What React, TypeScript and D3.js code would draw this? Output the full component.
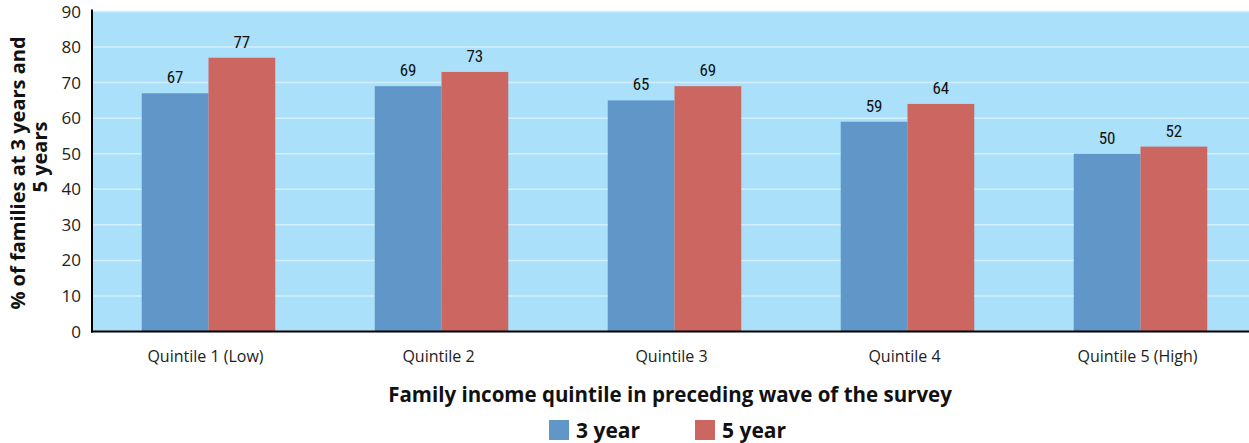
import React from "react";
import * as d3 from "d3";

const categories = ["Quintile 1 (Low)", "Quintile 2", "Quintile 3", "Quintile 4", "Quintile 5 (High)"];
const seriesNames = ["3 year", "5 year"];
const threeYear = [67, 69, 65, 59, 50];
const fiveYear = [77, 73, 69, 64, 52];
const yTicks = [0, 10, 20, 30, 40, 50, 60, 70, 80, 90];

const colors = ["#6096C8", "#CC6660"];
const W = 1249;
const H = 443;
const left = 92;
const right = 1257;
const top = 11.5;
const bottom = 331.5;

const App = () => {
	const x = d3.scaleBand<string>().domain(categories).range([left, right]).paddingInner(0.427).paddingOuter(0.2135);
	const xs = d3.scaleBand<string>().domain(seriesNames).range([0, x.bandwidth()]);
	const y = d3.scaleLinear().domain([0, 90]).range([bottom, top]);
	const series = [threeYear, fiveYear];
	const tickFont = "'Open Sans', 'Noto Sans', sans-serif";
	const labelFont = "'Liberation Sans Narrow', 'Arial Narrow', 'Roboto Condensed', sans-serif";

	return (
		<svg width={W} height={H} style={{ position: "absolute", left: 0, top: 0 }}>
			<rect x={left} y={top} width={right - left} height={bottom - top} fill="#AAE0FA" />
			{yTicks.map((t) => (
				<line key={t} x1={left} x2={right} y1={y(t)} y2={y(t)} stroke="#D4EFFC" strokeWidth={1.5} />
			))}
			{categories.map((c, i) =>
				series.map((s, j) => (
					<g key={c + j}>
						<rect
							x={(x(c) as number) + (xs(seriesNames[j]) as number)}
							y={y(s[i])}
							width={xs.bandwidth()}
							height={bottom - y(s[i])}
							fill={colors[j]}
						/>
						<text
							x={(x(c) as number) + (xs(seriesNames[j]) as number) + xs.bandwidth() / 2}
							y={y(s[i]) - 10}
							textAnchor="middle"
							fontFamily={labelFont}
							fontSize={17}
							fill="#111"
						>
							{s[i]}
						</text>
					</g>
				))
			)}
			<line x1={left} x2={left} y1={top - 2} y2={bottom + 1} stroke="#000" strokeWidth={2} />
			<line x1={left - 1} x2={W} y1={bottom} y2={bottom} stroke="#000" strokeWidth={2} />
			{yTicks.map((t) => (
				<text key={t} x={81} y={y(t) + 6} textAnchor="end" fontFamily={tickFont} fontSize={17} fill="#222">
					{t}
				</text>
			))}
			{categories.map((c) => (
				<text
					key={c}
					x={(x(c) as number) + x.bandwidth() / 2 - 3}
					y={362}
					textAnchor="middle"
					fontFamily={tickFont}
					fontSize={16}
					fill="#222"
				>
					{c}
				</text>
			))}
			<g transform="translate(25, 173) rotate(-90)" fontFamily={tickFont} fontSize={20} fontWeight="bold" fill="#111">
				<text x={0} y={0} textAnchor="middle">% of families at 3 years and</text>
				<text x={16} y={22} textAnchor="middle">5 years</text>
			</g>
			<text x={670} y={402} textAnchor="middle" fontFamily={tickFont} fontSize={20.5} fontWeight="bold" fill="#111">
				Family income quintile in preceding wave of the survey
			</text>
			{seriesNames.map((n, j) => (
				<g key={n} transform={`translate(${549 + j * 146}, 420)`}>
					<rect x={0} y={0} width={20} height={20} fill={colors[j]} />
					<text x={27} y={18} fontFamily={tickFont} fontSize={21} fontWeight="bold" fill="#111">
						{n}
					</text>
				</g>
			))}
		</svg>
	);
};

export default App;
